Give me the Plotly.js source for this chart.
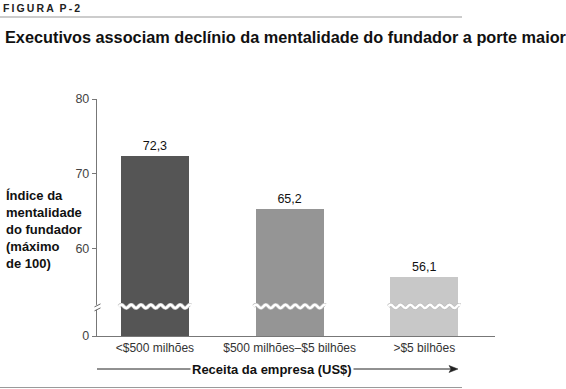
<!DOCTYPE html>
<html><head><meta charset="utf-8">
<script src="https://cdn.plot.ly/plotly-3.0.1.min.js"></script>
<style>html,body{margin:0;padding:0;background:#fff}#chart{width:566px;height:389px}</style>
</head><body><div id="chart"></div>
<script>
// ---- data ----
const categories = ['<$500 milhões', '$500 milhões–$5 bilhões', '>$5 bilhões'];
const values = [72.3, 65.2, 56.1];
const valueLabels = ['72,3', '65,2', '56,1'];
const barColors = ['#555555', '#959595', '#c8c8c8'];
const yTickVals = [0, 60, 70, 80];
const yTickText = ['0', '60', '70', '80'];

// ---- broken axis geometry (display units) ----
const W = 566, H = 389;
const M = {l: 97, r: 71, t: 99, b: 53};
const PW = W - M.l - M.r, PH = H - M.t - M.b;
const Z = 48.23;          // display position of real 0
const BREAK = 52.2;       // display position of break
const disp = v => (v === 0 ? Z : v);
const xr = [-0.43, 2.525];
const BW = 0.505;
const px2x = p => (p - M.l) / PW;       // pixel -> paper
const py2y = p => (H - M.b - p) / PH;

const idx = categories.map((c, i) => i);
const FONT = 'Liberation Sans, Arial, sans-serif';

const traces = [{
  type: 'bar', x: idx, y: values.map(v => v - Z), base: values.map(() => Z),
  width: BW, marker: {color: barColors, line: {width: 0}},
  text: valueLabels, textposition: 'outside', cliponaxis: false,
  textfont: {family: FONT, size: 12.5, color: '#111'}, hoverinfo: 'skip'
}];

// wavy break lines over each bar
const xPerPx = (xr[1] - xr[0]) / PW;
const yPerPx = (80 - Z) / PH;
idx.forEach(i => {
  const xs = [], ys = [];
  const x0 = i - BW / 2 - 2 * xPerPx, x1 = i + BW / 2 + 2 * xPerPx;
  const n = 90;
  for (let k = 0; k <= n; k++) {
    const x = x0 + (x1 - x0) * k / n;
    const p = (x - x0) / xPerPx;
    xs.push(x);
    ys.push(BREAK + 1.6 * yPerPx * Math.sin(2 * Math.PI * p / 9.8));
  }
  traces.push({type: 'scatter', mode: 'lines', x: xs, y: ys,
    line: {color: '#bdbdbd', width: 3.8, shape: 'spline'}, hoverinfo: 'skip', showlegend: false, cliponaxis: false});
  traces.push({type: 'scatter', mode: 'lines', x: xs, y: ys,
    line: {color: '#ffffff', width: 2.4, shape: 'spline'}, hoverinfo: 'skip', showlegend: false, cliponaxis: false});
});

const axBreakY = M.t + (80 - BREAK) / yPerPx + 1;
const shapes = [
  // top rule
  {type: 'line', xref: 'paper', yref: 'paper', x0: px2x(0), x1: px2x(462), y0: py2y(17), y1: py2y(17), line: {color: '#9a9a9a', width: 1.2}},
  // bottom rule
  {type: 'line', xref: 'paper', yref: 'paper', x0: px2x(0), x1: px2x(462), y0: py2y(387.5), y1: py2y(387.5), line: {color: '#9a9a9a', width: 1.2}},
  // axis break gap
  {type: 'rect', xref: 'paper', yref: 'paper', layer: 'above', x0: px2x(94), x1: px2x(100), y0: py2y(axBreakY - 2.5), y1: py2y(axBreakY + 2.5), fillcolor: '#fff', line: {width: 0}},
  {type: 'line', xref: 'paper', yref: 'paper', layer: 'above', x0: px2x(94.5), x1: px2x(100.5), y0: py2y(axBreakY - 0.5), y1: py2y(axBreakY - 3.5), line: {color: '#666', width: 1}},
  {type: 'line', xref: 'paper', yref: 'paper', layer: 'above', x0: px2x(94.5), x1: px2x(100.5), y0: py2y(axBreakY + 3.5), y1: py2y(axBreakY + 0.5), line: {color: '#666', width: 1}},
  // axis title arrow
  {type: 'line', xref: 'paper', yref: 'paper', x0: px2x(97), x1: px2x(195), y0: py2y(369), y1: py2y(369), line: {color: '#222', width: 1}},
  {type: 'line', xref: 'paper', yref: 'paper', x0: px2x(349), x1: px2x(452), y0: py2y(369), y1: py2y(369), line: {color: '#222', width: 1}},
  {type: 'path', xref: 'paper', yref: 'paper',
    path: `M ${px2x(458)} ${py2y(369)} L ${px2x(449)} ${py2y(365.5)} L ${px2x(451)} ${py2y(369)} L ${px2x(449)} ${py2y(372.5)} Z`,
    fillcolor: '#222', line: {color: '#222', width: 0.5}}
];

const ts = '\u2009';
const annotations = [
  {text: '<b>' + 'FIGURA'.split('').join(ts) + '\u00a0\u00a0' + 'P-2'.split('').join(ts) + '</b>', xref: 'paper', yref: 'paper', x: px2x(1), y: py2y(8), xanchor: 'left', yanchor: 'middle', showarrow: false,
   font: {family: FONT, size: 10.5, color: '#222'}},
  {text: '<b>Executivos associam declínio da mentalidade do fundador a porte maior</b>', xref: 'paper', yref: 'paper', x: px2x(3), y: py2y(37), xanchor: 'left', yanchor: 'middle', showarrow: false,
   font: {family: FONT, size: 16.3, color: '#111'}},
  {text: '<b>Índice da<br>mentalidade<br>do fundador<br>(máximo<br>de 100)</b>', xref: 'paper', yref: 'paper', x: px2x(4), y: py2y(229), xanchor: 'left', yanchor: 'middle', align: 'left', showarrow: false,
   font: {family: FONT, size: 13, color: '#111'}},
  {text: '<b>Receita da empresa (US$)</b>', xref: 'paper', yref: 'paper', x: px2x(272), y: py2y(369), xanchor: 'center', yanchor: 'middle', showarrow: false,
   bgcolor: '#fff', borderpad: 1, font: {family: FONT, size: 13, color: '#111'}}
];

const layout = {
  width: W, height: H, margin: M, paper_bgcolor: '#fff', plot_bgcolor: '#fff',
  showlegend: false, bargap: 0,
  font: {family: FONT, color: '#333'},
  xaxis: {range: xr, tickvals: idx, ticktext: categories, showgrid: false, zeroline: false,
    showline: true, linecolor: '#777', linewidth: 1.2, ticks: '', tickfont: {family: FONT, size: 12, color: '#333'}, fixedrange: true},
  yaxis: {range: [Z, 80], tickvals: yTickVals.map(disp), ticktext: yTickText, showgrid: false, zeroline: false,
    showline: true, linecolor: '#777', linewidth: 1.2, ticks: 'outside', ticklen: 4, tickcolor: '#777', tickwidth: 1,
    tickfont: {family: FONT, size: 12.5, color: '#444'}, fixedrange: true},
  shapes: shapes, annotations: annotations
};

Plotly.newPlot('chart', traces, layout, {displayModeBar: false, staticPlot: true});
</script></body></html>
